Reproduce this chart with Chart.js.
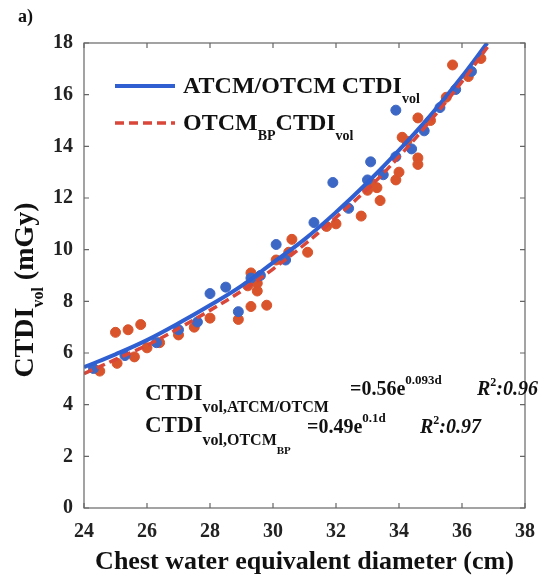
<!DOCTYPE html>
<html>
<head>
<meta charset="utf-8">
<script src="https://cdn.jsdelivr.net/npm/chart.js@4.4.1/dist/chart.umd.min.js"></script>
<style>
  html, body { margin: 0; padding: 0; background: #fff; }
  canvas { display: block; }
</style>
</head>
<body>
<canvas id="chartCTDI" width="555" height="584"></canvas>
<script>
  // Ejes
  const xTicks = [24, 26, 28, 30, 32, 34, 36, 38];
  const yTicks = [0, 2, 4, 6, 8, 10, 12, 14, 16, 18];

  // ATCM/OTCM CTDIvol (puntos azules)
  const atcmD = [24.3, 25.3, 26.3, 27.0, 27.6, 28.0, 28.5, 28.9, 29.3, 29.6, 30.1, 30.4, 31.3, 31.9, 32.4, 33.0, 33.1, 33.5, 33.9, 33.9, 34.4, 34.8, 35.3, 35.8, 36.3];
  const atcmV = [5.4, 5.9, 6.4, 6.9, 7.2, 8.3, 8.55, 7.6, 8.9, 9.0, 10.2, 9.6, 11.05, 12.6, 11.6, 12.7, 13.4, 12.9, 13.6, 15.4, 13.9, 14.6, 15.5, 16.2, 16.9];

  // OTCM_BP CTDIvol (puntos rojos)
  const otcmD = [24.5, 25.0, 25.05, 25.4, 25.6, 25.8, 26.0, 26.4, 27.0, 27.5, 28.0, 28.9, 29.2, 29.3, 29.3, 29.5, 29.5, 29.8, 30.1, 30.5, 30.6, 31.1, 31.7, 32.0, 32.8, 33.0, 33.1, 33.3, 33.4, 33.9, 34.0, 34.1, 34.25, 34.6, 34.6, 34.6, 35.0, 35.5, 35.7, 36.2, 36.6];
  const otcmV = [5.3, 6.8, 5.6, 6.9, 5.85, 7.1, 6.2, 6.4, 6.7, 7.0, 7.35, 7.3, 8.6, 7.8, 9.1, 8.7, 8.4, 7.85, 9.6, 9.9, 10.4, 9.9, 10.9, 11.0, 11.3, 12.3, 12.6, 12.4, 11.9, 12.7, 13.0, 14.35, 14.2, 13.55, 13.3, 15.1, 15.0, 15.9, 17.15, 16.7, 17.4];

  // Curvas de ajuste
  const fitD     = [24, 25, 26, 27, 28, 29, 30, 31, 32, 33, 34, 35, 36, 36.8];
  const atcmFit  = [5.45, 5.95, 6.5, 7.15, 7.85, 8.6, 9.5, 10.4, 11.45, 12.6, 13.85, 15.2, 16.7, 18.0];
  const otcmFitD = [24, 25, 26, 27, 28, 29, 30, 31, 32, 33, 34, 35, 36, 36.9];
  const otcmFit  = [5.2, 5.75, 6.3, 6.95, 7.65, 8.4, 9.25, 10.2, 11.25, 12.35, 13.6, 15.0, 16.5, 18.0];

  const pts = (xs, ys) => xs.map((x, i) => ({ x: x, y: ys[i] }));

  const SERIF = "'Liberation Serif', 'Times New Roman', serif";
  const BLUE = '#2f5fd0';
  const RED = '#d9463a';

  function richText(ctx, x, y, parts) {
    parts.forEach(p => {
      ctx.font = (p.italic ? 'italic ' : '') + 'bold ' + p.size + 'px ' + SERIF;
      ctx.fillText(p.t, x, y + (p.dy || 0));
      x += ctx.measureText(p.t).width + (p.gap || 0);
    });
    return x;
  }

  const decor = {
    id: 'decor',
    afterDraw(chart) {
      const ctx = chart.ctx;
      const a = chart.chartArea;
      const xs = chart.scales.x, ys = chart.scales.y;
      ctx.save();
      // marco
      ctx.strokeStyle = '#666';
      ctx.lineWidth = 1.2;
      ctx.strokeRect(a.left, a.top, a.right - a.left, a.bottom - a.top);
      // ticks hacia dentro
      ctx.beginPath();
      xTicks.forEach(v => {
        const px = xs.getPixelForValue(v);
        ctx.moveTo(px, a.bottom); ctx.lineTo(px, a.bottom - 5);
        ctx.moveTo(px, a.top); ctx.lineTo(px, a.top + 5);
      });
      yTicks.forEach(v => {
        const py = ys.getPixelForValue(v);
        ctx.moveTo(a.left, py); ctx.lineTo(a.left + 5, py);
        ctx.moveTo(a.right, py); ctx.lineTo(a.right - 5, py);
      });
      ctx.stroke();

      ctx.fillStyle = '#111';
      ctx.textBaseline = 'alphabetic';
      ctx.textAlign = 'left';

      // leyenda
      ctx.lineWidth = 4;
      ctx.strokeStyle = BLUE;
      ctx.setLineDash([]);
      ctx.beginPath(); ctx.moveTo(115, 86); ctx.lineTo(175, 86); ctx.stroke();
      ctx.strokeStyle = RED;
      ctx.lineWidth = 3.5;
      ctx.setLineDash([9, 5]);
      ctx.beginPath(); ctx.moveTo(115, 123); ctx.lineTo(175, 123); ctx.stroke();
      ctx.setLineDash([]);
      richText(ctx, 183, 93, [{ t: 'ATCM/OTCM CTDI', size: 24 }, { t: 'vol', size: 14, dy: 10 }]);
      richText(ctx, 183, 130, [{ t: 'OTCM', size: 24 }, { t: 'BP', size: 14, dy: 10 }, { t: 'CTDI', size: 24 }, { t: 'vol', size: 14, dy: 10 }]);

      // ecuaciones
      richText(ctx, 145, 400, [{ t: 'CTDI', size: 23 }, { t: 'vol,ATCM/OTCM', size: 16, dy: 12 }]);
      richText(ctx, 350, 395, [{ t: '=0.56e', size: 20 }, { t: '0.093d', size: 13, dy: -11 }]);
      richText(ctx, 477, 395, [{ t: 'R', size: 20, italic: true }, { t: '2', size: 12, dy: -9 }, { t: ':0.96', size: 20, italic: true }]);

      richText(ctx, 145, 432, [{ t: 'CTDI', size: 23 }, { t: 'vol,OTCM', size: 16, dy: 13 }, { t: 'BP', size: 11, dy: 22 }]);
      richText(ctx, 307, 433, [{ t: '=0.49e', size: 20 }, { t: '0.1d', size: 13, dy: -11 }]);
      richText(ctx, 420, 433, [{ t: 'R', size: 20, italic: true }, { t: '2', size: 12, dy: -9 }, { t: ':0.97', size: 20, italic: true }]);

      // título eje y
      ctx.save();
      ctx.translate(33, 290);
      ctx.rotate(-Math.PI / 2);
      ctx.font = 'bold 28px ' + SERIF;
      const w1 = ctx.measureText('CTDI').width;
      ctx.font = 'bold 16px ' + SERIF;
      const w2 = ctx.measureText('vol').width;
      ctx.font = 'bold 28px ' + SERIF;
      const w3 = ctx.measureText(' (mGy)').width;
      richText(ctx, -(w1 + w2 + w3) / 2, 0, [{ t: 'CTDI', size: 28 }, { t: 'vol', size: 16, dy: 10 }, { t: ' (mGy)', size: 28 }]);
      ctx.restore();

      // etiqueta del panel
      richText(ctx, 18, 22, [{ t: 'a)', size: 18 }]);
      ctx.restore();
    }
  };

  const ctxCTDI = document.getElementById('chartCTDI').getContext('2d');
  new Chart(ctxCTDI, {
    type: 'scatter',
    data: {
      datasets: [
        {
          label: 'OTCM_BP CTDIvol',
          data: pts(otcmD, otcmV),
          backgroundColor: '#d9532b',
          borderColor: '#d9532b',
          pointRadius: 5,
          order: 4
        },
        {
          label: 'ATCM/OTCM CTDIvol',
          data: pts(atcmD, atcmV),
          backgroundColor: '#3d67c4',
          borderColor: '#3d67c4',
          pointRadius: 5,
          order: 3
        },
        {
          type: 'line',
          label: 'ATCM/OTCM fit',
          data: pts(fitD, atcmFit),
          borderColor: BLUE,
          borderWidth: 4,
          pointRadius: 0,
          tension: 0.4,
          order: 2
        },
        {
          type: 'line',
          label: 'OTCM_BP fit',
          data: pts(otcmFitD, otcmFit),
          borderColor: RED,
          borderWidth: 3.5,
          borderDash: [9, 5],
          pointRadius: 0,
          tension: 0.4,
          order: 1
        }
      ]
    },
    options: {
      responsive: false,
      animation: false,
      layout: { padding: { left: 0, top: 43, right: 30, bottom: 0 } },
      plugins: {
        legend: { display: false },
        tooltip: { enabled: false }
      },
      scales: {
        x: {
          type: 'linear',
          min: 24, max: 38,
          afterFit: s => { s.height = 76; },
          afterBuildTicks: s => { s.ticks = xTicks.map(v => ({ value: v })); },
          grid: { display: false, drawTicks: false },
          border: { display: false },
          ticks: { padding: 12, color: '#222', font: { family: SERIF, size: 20, weight: 'bold' } },
          title: {
            display: true,
            text: 'Chest water equivalent diameter (cm)',
            color: '#111',
            padding: { top: 0, bottom: 6 },
            font: { family: SERIF, size: 26, weight: 'bold' }
          }
        },
        y: {
          min: 0, max: 18,
          afterFit: s => { s.width = 84; },
          afterBuildTicks: s => { s.ticks = yTicks.map(v => ({ value: v })); },
          grid: { display: false, drawTicks: false },
          border: { display: false },
          ticks: { padding: 11, color: '#222', font: { family: SERIF, size: 20, weight: 'bold' } }
        }
      }
    },
    plugins: [decor]
  });
</script>
</body>
</html>
